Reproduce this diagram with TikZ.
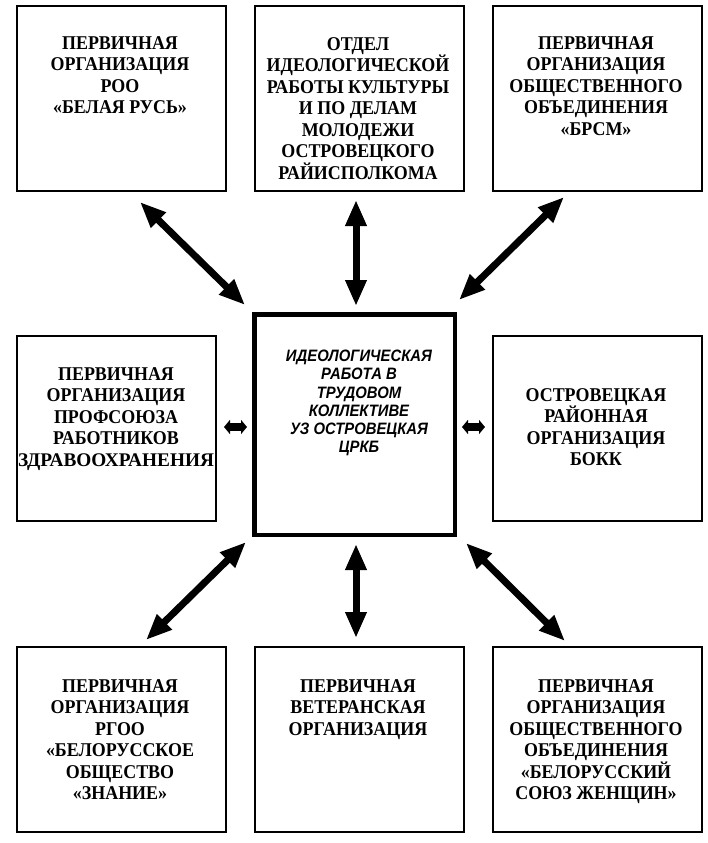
\documentclass[tikz,border=0pt]{standalone}
\usepackage{fontspec}
\setmainfont[FakeStretch=0.92]{Liberation Serif}
\newfontfamily\wideserif{Liberation Serif}
\newfontfamily\centerfont[FakeStretch=0.9]{Liberation Sans}
\usetikzlibrary{arrows.meta}
\tikzset{
  box/.style={draw=black, line width=2pt, minimum width=209pt, minimum height=185pt, inner sep=0pt, fill=white},
  midbox/.style={box, minimum width=199pt},
  centerbox/.style={draw=black, line width=4.5pt, minimum width=200.5pt, minimum height=220.5pt, inner sep=0pt},
  boxtext/.style={anchor=north, inner sep=0pt, align=center, font=\bfseries\fontsize{19.5}{21.5}\selectfont},
  centertext/.style={anchor=north, inner sep=0pt, align=center, font=\centerfont\bfseries\itshape\fontsize{16.5}{18.2}\selectfont},
  bigarrow/.style={line width=7pt, {Triangle[length=26pt,width=20pt]}-{Triangle[length=26pt,width=20pt]}},
  smallarrow/.style={line width=7.5pt, {Triangle[length=6pt,width=14pt]}-{Triangle[length=6pt,width=14pt]}}
}
\begin{document}
\begin{tikzpicture}[x=1pt,y=-1pt]
\useasboundingbox[fill=white] (0,0) rectangle (708,843);
% boxes
\node[box] (TL) at (121,98.5) {};
\node[box] (TM) at (359,98.5) {};
\node[box] (TR) at (597.5,98.5) {};
\node[midbox] (ML) at (116.5,428.5) {};
\node[centerbox] (C) at (354.5,424.5) {};
\node[box] (MR) at (597.5,428.5) {};
\node[box] (BL) at (121,739.5) {};
\node[box] (BM) at (359,739.5) {};
\node[box] (BR) at (597.5,739.5) {};
% texts
\node[boxtext] (tTL) at (120,36) {ПЕРВИЧНАЯ\\ОРГАНИЗАЦИЯ\\РОО\\«БЕЛАЯ РУСЬ»};
\node[boxtext] (tTM) at (358,37) {ОТДЕЛ\\ИДЕОЛОГИЧЕСКОЙ\\РАБОТЫ КУЛЬТУРЫ\\И ПО ДЕЛАМ\\МОЛОДЕЖИ\\ОСТРОВЕЦКОГО\\РАЙИСПОЛКОМА};
\node[boxtext] (tTR) at (596,36) {ПЕРВИЧНАЯ\\ОРГАНИЗАЦИЯ\\ОБЩЕСТВЕННОГО\\ОБЪЕДИНЕНИЯ\\«БРСМ»};
\node[boxtext] (tML) at (116,367) {ПЕРВИЧНАЯ\\ОРГАНИЗАЦИЯ\\ПРОФСОЮЗА\\РАБОТНИКОВ\\{\wideserif\fontsize{19.3}{21.5}\selectfont ЗДРАВООХРАНЕНИЯ}};
\node[centertext] (tC) at (359,350) {ИДЕОЛОГИЧЕСКАЯ\\РАБОТА В\\ТРУДОВОМ\\КОЛЛЕКТИВЕ\\УЗ ОСТРОВЕЦКАЯ\\ЦРКБ\hspace{17pt}};
\node[boxtext] (tMR) at (596,388) {ОСТРОВЕЦКАЯ\\РАЙОННАЯ\\ОРГАНИЗАЦИЯ\\БОКК};
\node[boxtext] (tBL) at (120,679) {ПЕРВИЧНАЯ\\ОРГАНИЗАЦИЯ\\РГОО\\«БЕЛОРУССКОЕ\\ОБЩЕСТВО\\«ЗНАНИЕ»};
\node[boxtext] (tBM) at (358,679) {ПЕРВИЧНАЯ\\ВЕТЕРАНСКАЯ\\ОРГАНИЗАЦИЯ};
\node[boxtext] (tBR) at (596,679) {ПЕРВИЧНАЯ\\ОРГАНИЗАЦИЯ\\ОБЩЕСТВЕННОГО\\ОБЪЕДИНЕНИЯ\\«БЕЛОРУССКИЙ\\СОЮЗ ЖЕНЩИН»};
% arrow ends
\coordinate (aTL1) at (140,202);
\coordinate (aTL2) at (245,305);
\coordinate (aTM1) at (356,200);
\coordinate (aTM2) at (356,306);
\coordinate (aTR1) at (564,197);
\coordinate (aTR2) at (459,300);
\coordinate (aBL1) at (246,542);
\coordinate (aBL2) at (146,640);
\coordinate (aBM1) at (356,544);
\coordinate (aBM2) at (356,638);
\coordinate (aBR1) at (466,543);
\coordinate (aBR2) at (565,641);
\coordinate (aML1) at (224,427);
\coordinate (aML2) at (247,427);
\coordinate (aMR1) at (462,427);
\coordinate (aMR2) at (485,427);
% connectors
\draw[bigarrow] (aTL1) -- (aTL2);
\draw[bigarrow] (aTM1) -- (aTM2);
\draw[bigarrow] (aTR1) -- (aTR2);
\draw[bigarrow] (aBL1) -- (aBL2);
\draw[bigarrow] (aBM1) -- (aBM2);
\draw[bigarrow] (aBR1) -- (aBR2);
\draw[smallarrow] (aML1) -- (aML2);
\draw[smallarrow] (aMR1) -- (aMR2);
\end{tikzpicture}
\end{document}
